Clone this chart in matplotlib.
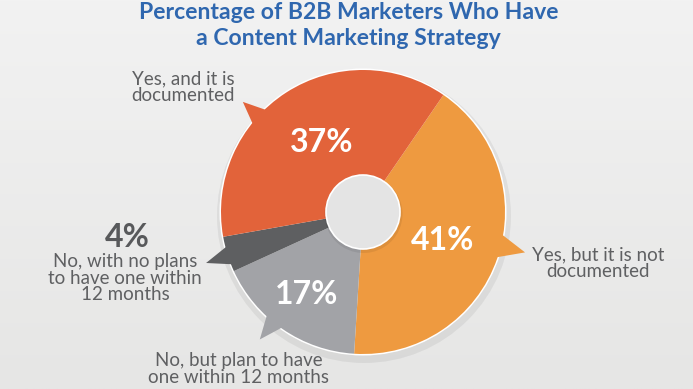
import numpy as np
import matplotlib
matplotlib.use("Agg")
import matplotlib.pyplot as plt
from matplotlib.patches import Circle, Polygon

# data
labels = ["Yes, but it is not\ndocumented",
          "No, but plan to have\none within 12 months",
          "No, with no plans\nto have one within\n12 months",
          "Yes, and it is\ndocumented"]
values = [41, 17, 4, 37]
colors = ["#EE9A40", "#A2A3A7", "#5E5F61", "#E2633A"]
pct_text = ["41%", "17%", "4%", "37%"]
title_lines = ["Percentage of B2B Marketers Who Have", "a Content Marketing Strategy"]

W, H = 693, 389
fig = plt.figure(figsize=(W / 100, H / 100), dpi=100)
ax = fig.add_axes([0, 0, 1, 1])

# background gradient
grad = np.linspace(0, 1, 200)[:, None] * np.ones((1, 10))
bg = matplotlib.colors.LinearSegmentedColormap.from_list("bg", ["#F2F2F2", "#E6E6E5"])
ax.imshow(grad, extent=[0, W, 0, H], origin="upper", cmap=bg, aspect="auto", zorder=0)

cx, cy, R = 363, 177, 142

# shadow + white outline
ax.add_patch(Circle((cx + 1, cy - 4), R + 5, facecolor="#000000", alpha=0.06, lw=0, zorder=1))
ax.add_patch(Circle((cx, cy), R + 1.5, facecolor="white", lw=0, zorder=2))

wedges, _ = ax.pie(values, colors=colors, startangle=55.5, counterclock=False,
                   radius=R, center=(cx, cy), wedgeprops=dict(linewidth=0),
                   frame=True)
for w in wedges:
    w.set_zorder(3)

# callout pointers
ptr_angle = [-14, -129, -162, 137.5]
ptr_len = [167, 164, 165, 163]
ptr_half = [8, 7, 6.5, 7]
for a, L, hw, c in zip(ptr_angle, ptr_len, ptr_half, colors):
    t = np.radians(a)
    tip = (cx + L * np.cos(t), cy + L * np.sin(t))
    b1 = (cx + 0.9 * R * np.cos(t - np.radians(hw)), cy + 0.9 * R * np.sin(t - np.radians(hw)))
    b2 = (cx + 0.9 * R * np.cos(t + np.radians(hw)), cy + 0.9 * R * np.sin(t + np.radians(hw)))
    ax.add_patch(Polygon([b1, tip, b2], closed=True, facecolor=c, lw=0, zorder=4))

# hole
ax.add_patch(Circle((cx + 0.5, cy - 2), 39, facecolor="#000000", alpha=0.07, lw=0, zorder=5))
ax.add_patch(Circle((cx, cy), 37, facecolor="#E4E4E4", edgecolor="white", lw=1.2, zorder=6))

fam = ["Lato", "DejaVu Sans"]

# percentages inside
pct_pos = [(443, 389 - 240), (307, 389 - 295), None, (322, 389 - 142)]
for p, t in zip(pct_pos, pct_text):
    if p is not None:
        ax.text(p[0], p[1], t, color="white", fontsize=23, fontweight="bold",
                family=fam, ha="center", va="center", zorder=7)

# outside labels
gray = "#5F6062"
lab_pos = [(598, 389 - 263), (239, 389 - 369), (125, 389 - 278), (183, 389 - 87)]
for p, t in zip(lab_pos, labels):
    ax.text(p[0], p[1], t, color=gray, fontsize=13.5, family=fam,
            ha="center", va="center", linespacing=1.0, zorder=7)
ax.text(127, 389 - 237, pct_text[2], color="#58595B", fontsize=23, fontweight="bold",
        family=fam, ha="center", va="center", zorder=7)

# title
for line, base in zip(title_lines, [19, 45]):
    ax.text(348.5, 389 - base, line, color="#2F67AF", fontsize=16.6, fontweight="bold",
            family=fam, ha="center", va="baseline", zorder=7)

ax.set_xlim(0, W)
ax.set_ylim(0, H)
ax.set_aspect("auto")
ax.axis("off")

fig.savefig("out.png", dpi=100)
